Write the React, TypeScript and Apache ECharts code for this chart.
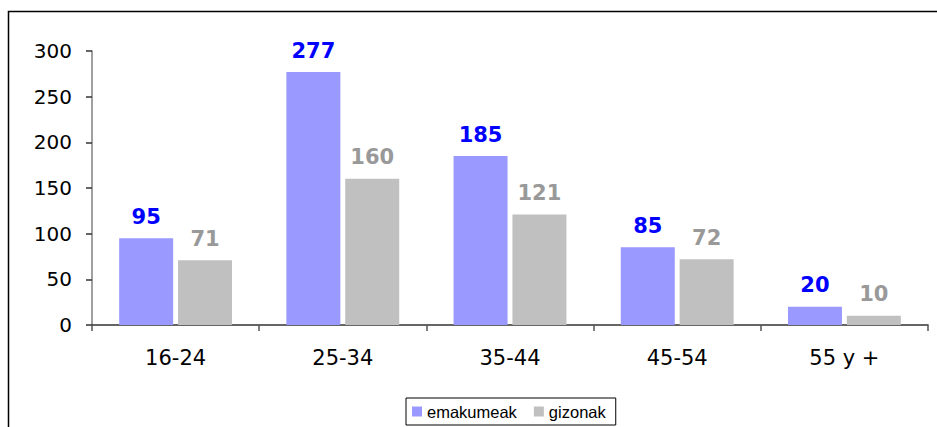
import React, { useEffect, useRef } from "react";
import * as echarts from "echarts";

const categories = ["16-24", "25-34", "35-44", "45-54", "55 y +"];
const emakumeak = [95, 277, 185, 85, 20];
const gizonak = [71, 160, 121, 72, 10];
const yTicks = { min: 0, max: 300, interval: 50 };

export default function App() {
  const ref = useRef<HTMLDivElement>(null);
  useEffect(() => {
    if (!ref.current) return;
    const chart = echarts.init(ref.current, null, { renderer: "svg" });
    const labelFont = "DejaVu Sans, Verdana, sans-serif";
    chart.setOption({
      animation: false,
      backgroundColor: "#ffffff",
      textStyle: { fontFamily: labelFont },
      graphic: [
        {
          type: "rect",
          shape: { x: 8.5, y: 11.5, width: 1000, height: 600 },
          style: { fill: "none", stroke: "#000000", lineWidth: 1.5 },
          silent: true,
          z: 0,
        },
      ],
      grid: { left: 92, right: 9, top: 51, bottom: 102, containLabel: false },
      legend: {
        left: 406,
        top: 398,
        itemWidth: 10,
        itemHeight: 10,
        itemGap: 17,
        padding: [5, 10, 5, 6],
        borderColor: "#000000",
        borderWidth: 1,
        icon: "rect",
        textStyle: {
          fontFamily: "Liberation Sans, Arial, sans-serif",
          fontSize: 16.5,
          color: "#000000",
        },
        data: ["emakumeak", "gizonak"],
      },
      xAxis: {
        type: "category",
        data: categories,
        axisLine: { lineStyle: { color: "#333333", width: 1.5 } },
        axisTick: { show: true, length: 6, lineStyle: { color: "#555555", width: 1.5 } },
        axisLabel: {
          color: "#000000",
          fontSize: 21,
          fontFamily: labelFont,
          margin: 22,
        },
      },
      yAxis: {
        type: "value",
        min: yTicks.min,
        max: yTicks.max,
        interval: yTicks.interval,
        splitLine: { show: false },
        axisLine: { show: true, lineStyle: { color: "#808080", width: 1.5 } },
        axisTick: { show: true, length: 6, lineStyle: { color: "#333333", width: 1.5 } },
        axisLabel: {
          color: "#000000",
          fontSize: 20,
          fontFamily: labelFont,
          margin: 20,
        },
      },
      series: [
        {
          name: "emakumeak",
          type: "bar",
          data: emakumeak,
          barWidth: 54,
          barGap: "9%",
          itemStyle: { color: "#9999ff" },
          label: {
            show: true,
            position: "top",
            distance: 11,
            color: "#0000ff",
            fontWeight: "bold",
            fontSize: 21,
            fontFamily: labelFont,
          },
        },
        {
          name: "gizonak",
          type: "bar",
          data: gizonak,
          barWidth: 54,
          barGap: "9%",
          itemStyle: { color: "#c0c0c0" },
          label: {
            show: true,
            position: "top",
            distance: 11,
            color: "#999999",
            fontWeight: "bold",
            fontSize: 21,
            fontFamily: labelFont,
          },
        },
      ],
    });
    return () => chart.dispose();
  }, []);
  return (
    <div
      ref={ref}
      style={{ position: "absolute", left: 0, top: 0, width: 937, height: 427 }}
    />
  );
}
